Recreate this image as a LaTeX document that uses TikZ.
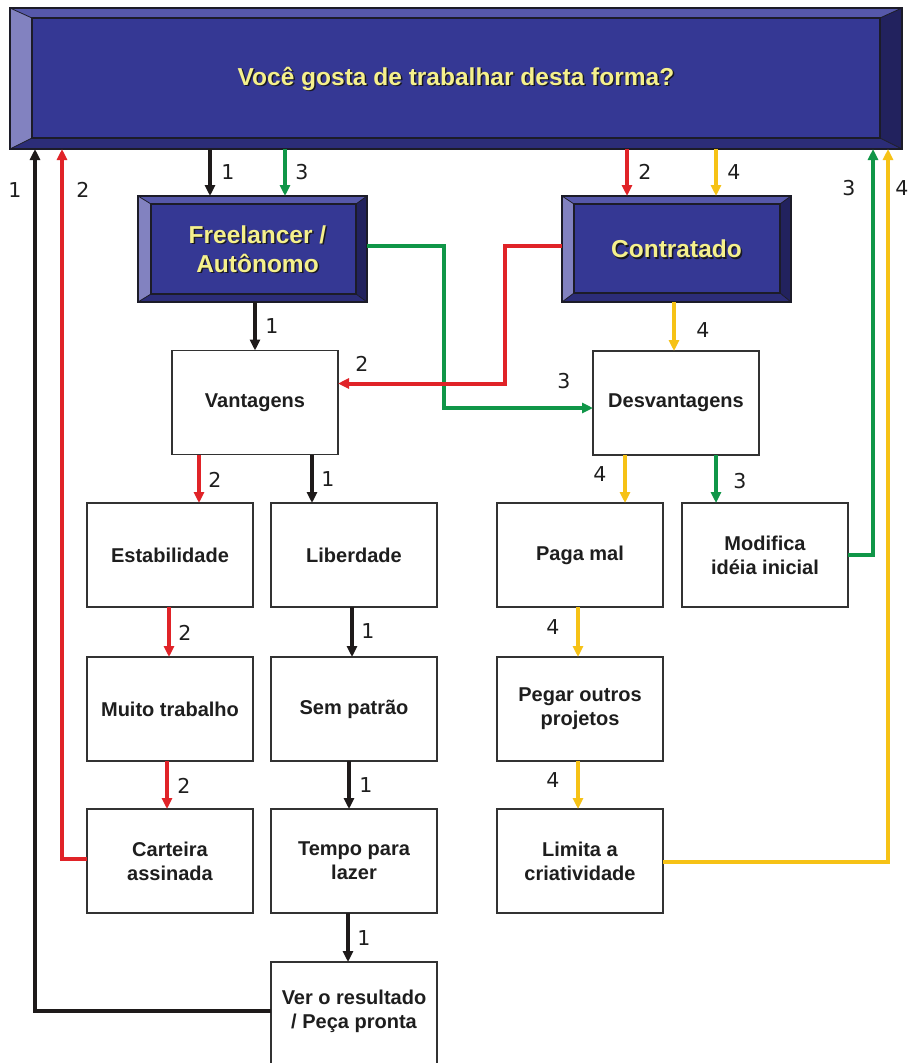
\documentclass[tikz,border=0pt]{standalone}
\usepackage{fontspec}
\setmainfont{Liberation Sans}
\newfontfamily\numfont{DejaVu Sans}
\usetikzlibrary{arrows.meta,calc}

\definecolor{blk}{RGB}{30,26,26}
\definecolor{rd}{RGB}{224,35,40}
\definecolor{gr}{RGB}{16,150,72}
\definecolor{yl}{RGB}{246,194,22}
\definecolor{boxline}{RGB}{50,50,50}
\definecolor{textdark}{RGB}{30,30,30}
\definecolor{bvface}{RGB}{53,56,148}
\definecolor{bvtop}{RGB}{86,88,170}
\definecolor{bvleft}{RGB}{130,130,192}
\definecolor{bvright}{RGB}{34,34,94}
\definecolor{bvbot}{RGB}{44,45,120}
\definecolor{bvedge}{RGB}{28,28,40}
\definecolor{ytext}{RGB}{245,240,140}
\definecolor{yshadow}{RGB}{25,25,35}

\tikzset{
  whitebox/.style={draw=boxline, line width=1.5pt, fill=white,
    minimum width=166pt, minimum height=104pt, inner sep=0pt, outer sep=0pt,
    align=center, text=textdark, font=\fontsize{20}{24}\selectfont\bfseries},
  bluebox/.style={inner sep=0pt, outer sep=0pt},
  bluetext/.style={align=center, text=ytext, inner sep=0pt,
    font=\fontsize{24.5}{29}\selectfont\bfseries},
  blueshadow/.style={bluetext, text=yshadow},
  link/.style={line width=4pt, -{Triangle[width=10pt,length=11pt]}},
  lnum/.style={font=\numfont\fontsize{20.5}{20.5}\selectfont, text=textdark, inner sep=0pt},
}

% bevelled panel drawn over a named node: name, left, top, right, bottom inset
\newcommand\bevelpanel[5]{%
  \fill[bvtop] (#1.north west) -- (#1.north east) -- ($(#1.north east)+(-#4,#3)$) -- ($(#1.north west)+(#2,#3)$) -- cycle;
  \fill[bvleft] (#1.north west) -- ($(#1.north west)+(#2,#3)$) -- ($(#1.south west)+(#2,-#5)$) -- (#1.south west) -- cycle;
  \fill[bvright] (#1.north east) -- ($(#1.north east)+(-#4,#3)$) -- ($(#1.south east)+(-#4,-#5)$) -- (#1.south east) -- cycle;
  \fill[bvbot] (#1.south west) -- ($(#1.south west)+(#2,-#5)$) -- ($(#1.south east)+(-#4,-#5)$) -- (#1.south east) -- cycle;
  \filldraw[fill=bvface, draw=bvedge, line width=1.2pt] ($(#1.north west)+(#2,#3)$) rectangle ($(#1.south east)+(-#4,-#5)$);
  \draw[bvedge, line width=0.8pt] (#1.north west) -- ($(#1.north west)+(#2,#3)$)
    (#1.north east) -- ($(#1.north east)+(-#4,#3)$)
    (#1.south west) -- ($(#1.south west)+(#2,-#5)$)
    (#1.south east) -- ($(#1.south east)+(-#4,-#5)$);
  \draw[bvedge, line width=1.2pt] (#1.north west) rectangle (#1.south east);
}

\begin{document}
\begin{tikzpicture}[x=1pt, y=-1pt]
\useasboundingbox (0,0) rectangle (909,1063);
\clip (0,0) rectangle (909,1063);
\fill[white] (0,0) rectangle (909,1063);

% bevelled headers
\node[bluebox, minimum width=892pt, minimum height=141pt] (ban) at (456,78.5) {};
\bevelpanel{ban}{22}{10}{22}{11}
\node[blueshadow] (banS) at ([shift={(1.5pt,-1.5pt)}]ban.center) {Você gosta de trabalhar desta forma?};
\node[bluetext] (banT) at (ban.center) {Você gosta de trabalhar desta forma?};

\node[bluebox, minimum width=229pt, minimum height=106pt] (fl) at (252.5,249) {};
\bevelpanel{fl}{13}{8}{11}{8}
\node[blueshadow] (flS) at ([shift={(6.5pt,-1.5pt)}]fl.center) {Freelancer /\\Autônomo};
\node[bluetext] (flT) at ([xshift=5pt]fl.center) {Freelancer /\\Autônomo};

\node[bluebox, minimum width=229pt, minimum height=106pt] (ct) at (676.5,249) {};
\bevelpanel{ct}{12}{8}{11}{9}
\node[blueshadow] (ctS) at ([shift={(1.5pt,-1.5pt)}]ct.center) {Contratado};
\node[bluetext] (ctT) at (ct.center) {Contratado};

% plain boxes
\node[whitebox] (van) at (255,402.5) {Vantagens};
\node[whitebox] (des) at (676,403) {Desvantagens};
\node[whitebox] (est) at (170,555) {Estabilidade};
\node[whitebox] (lib) at (354,555) {Liberdade};
\node[whitebox] (pag) at (580,555) {Paga mal};
\node[whitebox] (mod) at (765,555) {Modifica\\idéia inicial};
\node[whitebox] (mui) at (170,709) {Muito trabalho};
\node[whitebox] (sem) at (354,709) {Sem patrão};
\node[whitebox] (peg) at (580,709) {Pegar outros\\projetos};
\node[whitebox] (car) at (170,861) {Carteira\\assinada};
\node[whitebox] (tem) at (354,861) {Tempo para\\lazer};
\node[whitebox] (lim) at (580,861) {Limita a\\criatividade};
\node[whitebox] (ver) at (354,1014) {};
\node[align=center, text=textdark, inner sep=0pt, font=\fontsize{20}{24}\selectfont\bfseries] (verT) at (354,1011) {Ver o resultado\\/ Peça pronta};

% connectors from the question
\draw[link,blk] (210,0 |- ban.south) -- (210,0 |- fl.north);
\draw[link,gr]  (285,0 |- ban.south) -- (285,0 |- fl.north);
\draw[link,rd]  (627,0 |- ban.south) -- (627,0 |- ct.north);
\draw[link,yl]  (716,0 |- ban.south) -- (716,0 |- ct.north);

% second level
\draw[link,blk] (255,0 |- fl.south) -- (255,0 |- van.north);
\draw[link,yl]  (674,0 |- ct.south) -- (674,0 |- des.north);
\draw[link,gr]  ([yshift=3pt]fl.east) -- ++(77,0) |- ([yshift=-5pt]des.west);
\draw[link,rd]  ([yshift=3pt]ct.west) -- ++(-57,0) |- ([yshift=19pt]van.east);

% third level
\draw[link,rd]  (199,0 |- van.south) -- (199,0 |- est.north);
\draw[link,blk] (312,0 |- van.south) -- (312,0 |- lib.north);
\draw[link,yl]  (625,0 |- des.south) -- (625,0 |- pag.north);
\draw[link,gr]  (716,0 |- des.south) -- (716,0 |- mod.north);

% chains
\draw[link,rd]  (169,0 |- est.south) -- (169,0 |- mui.north);
\draw[link,blk] (352,0 |- lib.south) -- (352,0 |- sem.north);
\draw[link,yl]  (578,0 |- pag.south) -- (578,0 |- peg.north);
\draw[link,rd]  (167,0 |- mui.south) -- (167,0 |- car.north);
\draw[link,blk] (349,0 |- sem.south) -- (349,0 |- tem.north);
\draw[link,yl]  (578,0 |- peg.south) -- (578,0 |- lim.north);
\draw[link,blk] (348,0 |- tem.south) -- (348,0 |- ver.north);

% returns to the question
\draw[link,blk] ([yshift=3pt]ver.west) -| (35,0 |- ban.south);
\draw[link,rd]  ([yshift=2pt]car.west) -| (62,0 |- ban.south);
\draw[link,gr]  (mod.east) -| (873,0 |- ban.south);
\draw[link,yl]  ([yshift=-1pt]lim.east) -| (888,0 |- ban.south);

% path numbers
\node[lnum] (n01) at (15,190) {1};
\node[lnum] (n02) at (83,190) {2};
\node[lnum] (n03) at (228,172) {1};
\node[lnum] (n04) at (302,172) {3};
\node[lnum] (n05) at (645,172) {2};
\node[lnum] (n06) at (734,172) {4};
\node[lnum] (n07) at (849,188) {3};
\node[lnum] (n08) at (902,188) {4};
\node[lnum] (n09) at (272,326) {1};
\node[lnum] (n10) at (362,364) {2};
\node[lnum] (n11) at (564,381) {3};
\node[lnum] (n12) at (703,330) {4};
\node[lnum] (n13) at (215,480) {2};
\node[lnum] (n14) at (328,479) {1};
\node[lnum] (n15) at (600,474) {4};
\node[lnum] (n16) at (740,481) {3};
\node[lnum] (n17) at (185,633) {2};
\node[lnum] (n18) at (368,631) {1};
\node[lnum] (n19) at (553,627) {4};
\node[lnum] (n20) at (184,786) {2};
\node[lnum] (n21) at (366,785) {1};
\node[lnum] (n22) at (553,780) {4};
\node[lnum] (n23) at (364,938) {1};
\end{tikzpicture}
\end{document}
